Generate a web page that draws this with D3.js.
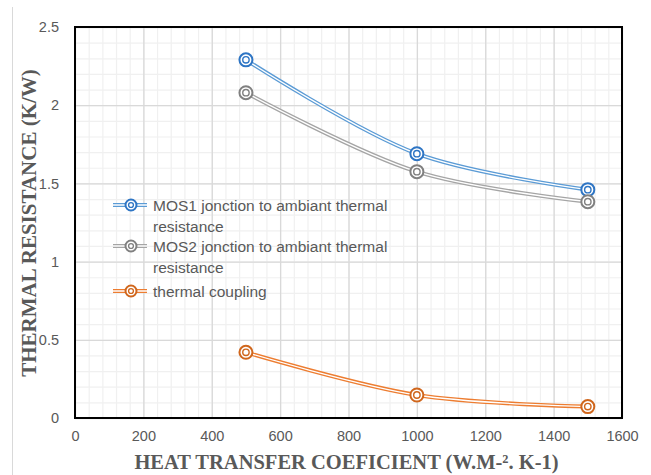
<!DOCTYPE html>
<html>
<head>
<meta charset="utf-8">
<script src="https://cdn.jsdelivr.net/npm/d3@7/dist/d3.min.js"></script>
<style>
  body { margin: 0; background: #fff; }
  svg text { font-family: "Liberation Sans", "Noto Sans", sans-serif; }
</style>
</head>
<body>
<div id="chart"></div>
<script>
//------------------------------------------------------------------------ Data
var heatCoef = [500, 1000, 1500];
var mos1Res = [2.29, 1.69, 1.46];
var mos2Res = [2.08, 1.575, 1.383];
var couplingRes = [0.42, 0.147, 0.073];

var seriesNames = ["MOS1 jonction to ambiant thermal resistance",
                   "MOS2 jonction to ambiant thermal resistance",
                   "thermal coupling"];
var seriesLegendLines = [["MOS1 jonction to ambiant thermal", "resistance"],
                         ["MOS2 jonction to ambiant thermal", "resistance"],
                         ["thermal coupling"]];
var xTicks = [0, 200, 400, 600, 800, 1000, 1200, 1400, 1600];
var yTicks = [0, 0.5, 1, 1.5, 2, 2.5];

//------------------------------------------------------------------------ Variables
var W = 651, H = 475;
var margin = {top: 27, right: 29, bottom: 57, left: 75},
    width = W - margin.left - margin.right,
    height = H - margin.top - margin.bottom;

var colLine = ["#5b9bd5", "#a5a5a5", "#ed7d31"];
var colMark = ["#2e75c4", "#808080", "#d0661c"];
var textCol = "#595959";

var svg = d3.select("#chart").append("svg")
  .attr("width", W)
  .attr("height", H);

// chart frame left edge
svg.append("line")
  .attr("x1", 12.5).attr("x2", 12.5)
  .attr("y1", 7).attr("y2", H)
  .attr("stroke", "#d9d9d9");

var g = svg.append("g")
  .attr("transform", "translate(" + margin.left + "," + margin.top + ")");

var x = d3.scaleLinear().domain([0, 1600]).range([0, width]);
var y = d3.scaleLinear().domain([0, 2.5]).range([height, 0]);

//minor grid
g.append("g").selectAll("line")
  .data(d3.range(0, 1601, 40))
  .join("line")
  .attr("x1", d => x(d) + 0.5).attr("x2", d => x(d) + 0.5)
  .attr("y1", 0).attr("y2", height)
  .attr("stroke", "#f0f0f0").attr("stroke-width", 1.2);
g.append("g").selectAll("line")
  .data(d3.range(0, 26).map(d => d / 10))
  .join("line")
  .attr("y1", d => y(d) + 0.5).attr("y2", d => y(d) + 0.5)
  .attr("x1", 0).attr("x2", width)
  .attr("stroke", "#f0f0f0").attr("stroke-width", 1.2);

//major grid
g.append("g").selectAll("line")
  .data(xTicks)
  .join("line")
  .attr("x1", d => x(d) + 0.5).attr("x2", d => x(d) + 0.5)
  .attr("y1", 0).attr("y2", height)
  .attr("stroke", "#d9d9d9").attr("stroke-width", 1.3);
g.append("g").selectAll("line")
  .data(yTicks)
  .join("line")
  .attr("y1", d => y(d) + 0.5).attr("y2", d => y(d) + 0.5)
  .attr("x1", 0).attr("x2", width)
  .attr("stroke", "#d9d9d9").attr("stroke-width", 1.3);

// plot area border
g.append("rect")
  .attr("x", 0).attr("y", 0)
  .attr("width", width).attr("height", height)
  .attr("fill", "none").attr("stroke", "#000").attr("stroke-width", 2);

//axes (labels only)
var xAxis = g.append("g")
  .attr("transform", "translate(0," + height + ")")
  .call(d3.axisBottom(x).tickValues(xTicks).tickSize(0).tickPadding(13).tickFormat(d3.format("d")));
xAxis.select(".domain").remove();
xAxis.selectAll("text").attr("fill", textCol).attr("font-size", "14.5px");

var yAxis = g.append("g")
  .call(d3.axisLeft(y).tickValues(yTicks).tickSize(0).tickPadding(16).tickFormat(d3.format("")));
yAxis.select(".domain").remove();
yAxis.selectAll("text").attr("fill", textCol).attr("font-size", "14.5px");

//axis titles
svg.append("text")
  .attr("x", margin.left + width / 2 - 2)
  .attr("y", 469)
  .attr("text-anchor", "middle")
  .style("font-family", "'Liberation Serif', 'DejaVu Serif', serif")
  .attr("font-weight", "bold")
  .attr("font-size", "20.5px")
  .attr("fill", textCol)
  .text("HEAT TRANSFER COEFICIENT (W.M-². K-1)");

svg.append("text")
  .attr("transform", "translate(36," + 223 + ") rotate(-90)")
  .attr("text-anchor", "middle")
  .style("font-family", "'Liberation Serif', 'DejaVu Serif', serif")
  .attr("font-weight", "bold")
  .attr("font-size", "21px")
  .attr("fill", textCol)
  .text("THERMAL RESISTANCE (K/W)");

//series
var allSeries = [mos1Res, mos2Res, couplingRes];
var line = d3.line()
  .x((d, i) => x(heatCoef[i]))
  .y(d => y(d))
  .curve(d3.curveCatmullRom.alpha(0.5));

function marker(sel, col) {
  sel.append("circle").attr("r", 6.5).attr("fill", "#fff")
    .attr("stroke", col).attr("stroke-width", 2);
  sel.append("circle").attr("r", 3.2).attr("fill", "none")
    .attr("stroke", col).attr("stroke-width", 1.4);
}

allSeries.forEach(function(vals, s) {
  g.append("path").datum(vals)
    .attr("d", line)
    .attr("fill", "none")
    .attr("stroke", colLine[s])
    .attr("stroke-width", 4);
  g.append("path").datum(vals)
    .attr("d", line)
    .attr("fill", "none")
    .attr("stroke", "#fff")
    .attr("stroke-width", 1.3);
  g.append("g").selectAll("g")
    .data(vals)
    .join("g")
    .attr("transform", (d, i) => "translate(" + x(heatCoef[i]) + "," + y(d) + ")")
    .each(function() { marker(d3.select(this), colMark[s]); });
});

//legend
var legRowY = [205, 246, 291];
seriesNames.forEach(function(name, s) {
  var lg = svg.append("g").attr("transform", "translate(0," + legRowY[s] + ")");
  lg.append("line").attr("x1", 113).attr("x2", 147).attr("y1", 0).attr("y2", 0)
    .attr("stroke", colLine[s]).attr("stroke-width", 4);
  lg.append("line").attr("x1", 113).attr("x2", 147).attr("y1", 0).attr("y2", 0)
    .attr("stroke", "#fff").attr("stroke-width", 1.3);
  var m = lg.append("g").attr("transform", "translate(131,0)");
  m.append("circle").attr("r", 5.5).attr("fill", "#fff")
    .attr("stroke", colMark[s]).attr("stroke-width", 2);
  m.append("circle").attr("r", 2.4).attr("fill", "none")
    .attr("stroke", colMark[s]).attr("stroke-width", 1.4);
  seriesLegendLines[s].forEach(function(t, k) {
    lg.append("text")
      .attr("x", 153).attr("y", k * 21 + 5.5)
      .attr("fill", textCol)
      .attr("font-size", "15.5px")
      .text(t);
  });
});
</script>
</body>
</html>
